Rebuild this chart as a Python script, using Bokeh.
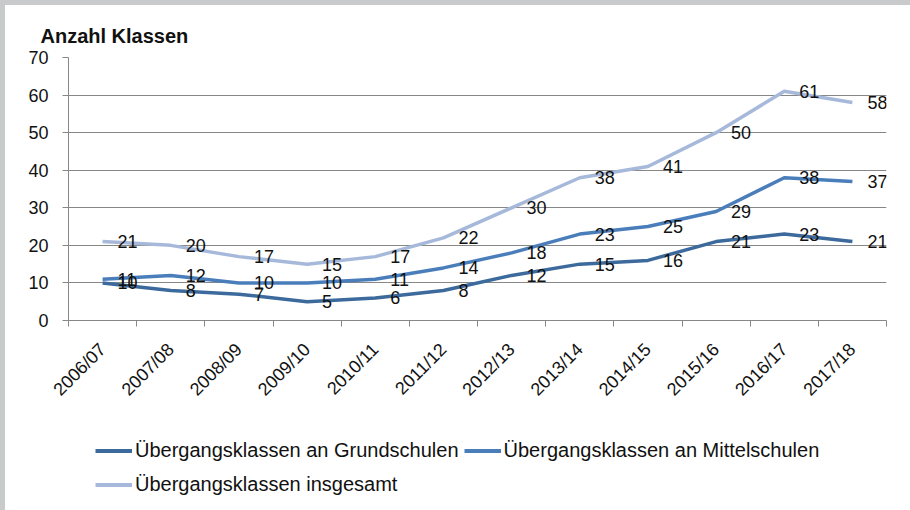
import math
from bokeh.plotting import figure
from bokeh.layouts import column
from bokeh.models import (Range1d, FixedTicker, ColumnDataSource, LabelSet,
                          Legend, LegendItem)
from bokeh.core.properties import value
from bokeh.embed import file_html
from bokeh.resources import INLINE

years = ["2006/07", "2007/08", "2008/09", "2009/10", "2010/11", "2011/12",
         "2012/13", "2013/14", "2014/15", "2015/16", "2016/17", "2017/18"]
grundschulen = [10, 8, 7, 5, 6, 8, 12, 15, 16, 21, 23, 21]
mittelschulen = [11, 12, 10, 10, 11, 14, 18, 23, 25, 29, 38, 37]
insgesamt = [21, 20, 17, 15, 17, 22, 30, 38, 41, 50, 61, 58]
y_ticks = [0, 10, 20, 30, 40, 50, 60, 70]

series_names = ["Übergangsklassen an Grundschulen",
                "Übergangsklassen an Mittelschulen",
                "Übergangsklassen insgesamt"]
series_values = [grundschulen, mittelschulen, insgesamt]
colors = ["#3d6a9c", "#4a7ebb", "#a6b9da"]
legend_order = [0, 2, 1]  # column-major fill: Grund, insgesamt | Mittel

FONT = "Liberation Sans"
GRAY = "#878787"
TXT = "#111111"

xs = list(range(len(years)))

p = figure(width=905, height=404, output_backend="svg", toolbar_location=None,
           x_range=Range1d(-0.5, len(years) - 0.5), y_range=Range1d(y_ticks[0], y_ticks[-1]),
           min_border_left=63, min_border_right=24, min_border_top=52, min_border_bottom=86)
p.outline_line_color = None
p.background_fill_color = "white"
p.border_fill_color = "white"

p.title.text = "Anzahl Klassen"
p.title.align = "left"
p.title.offset = -28
p.title.standoff = 21
p.title.text_font = FONT
p.title.text_font_style = "bold"
p.title.text_font_size = "20px"
p.title.text_color = TXT

# x axis: labels at category centres, tick marks at category boundaries
p.xaxis.ticker = FixedTicker(ticks=xs, minor_ticks=[i - 0.5 for i in range(len(years) + 1)])
p.xaxis.major_label_overrides = {i: y for i, y in enumerate(years)}
p.xaxis.major_label_orientation = math.pi / 4
p.xaxis.major_tick_out = 0
p.xaxis.major_tick_in = 0
p.xaxis.minor_tick_out = 6
p.xaxis.minor_tick_in = 0
p.xaxis.minor_tick_line_color = GRAY
p.xaxis.axis_line_color = GRAY
p.xaxis.major_label_text_font = FONT
p.xaxis.major_label_text_font_size = "18px"
p.xaxis.major_label_text_color = TXT
p.xaxis.major_label_standoff = 20

p.yaxis.ticker = FixedTicker(ticks=y_ticks)
p.yaxis.major_tick_out = 6
p.yaxis.major_tick_in = 0
p.yaxis.minor_tick_line_color = None
p.yaxis.major_tick_line_color = GRAY
p.yaxis.axis_line_color = GRAY
p.yaxis.major_label_text_font = FONT
p.yaxis.major_label_text_font_size = "18px"
p.yaxis.major_label_text_color = TXT
p.yaxis.major_label_standoff = 14

p.xgrid.visible = False
p.ygrid.ticker = FixedTicker(ticks=y_ticks)
p.ygrid.grid_line_color = GRAY
p.ygrid.grid_line_width = 1

# legend figure (no axes); its series renderers are hidden, only the legend shows
p2 = figure(width=905, height=101, output_backend="svg", toolbar_location=None,
            x_axis_location=None, y_axis_location=None, min_border=0,
            x_range=Range1d(0, 1), y_range=Range1d(-1, 0))
p2.outline_line_color = None
p2.grid.visible = False
p2.border_fill_color = None
p2.background_fill_color = None

legend_items = []
for name, vals, col in zip(series_names, series_values, colors):
    src = ColumnDataSource(dict(x=xs, y=vals, t=[str(v) for v in vals]))
    p.line("x", "y", source=src, line_color=col, line_width=3.5)
    p.add_layout(LabelSet(x="x", y="y", text="t", source=src, x_offset=15,
                          text_align="left", text_baseline="middle",
                          text_font=value(FONT), text_font_size=value("18px"),
                          text_color=TXT))
    lr = p2.line("x", "y", source=src, line_color=col, line_width=4)
    lr.visible = False
    legend_items.append(LegendItem(label=name, renderers=[lr]))

legend = Legend(items=[legend_items[i] for i in legend_order], ncols=2, location=(27, 11.5),
                label_text_font=FONT, label_text_font_size="20px", label_text_color=TXT,
                glyph_width=37, glyph_height=29, label_height=29, label_standoff=3,
                spacing=5, padding=0, margin=0,
                border_line_color=None, background_fill_alpha=0)
p2.add_layout(legend, "center")

layout = column(p, p2, spacing=0,
                styles={"background-color": "white",
                        "border-top": "5px solid #c9cacc", "border-left": "5px solid #c9cacc"})
open("out.html", "w").write(file_html(layout, INLINE))
